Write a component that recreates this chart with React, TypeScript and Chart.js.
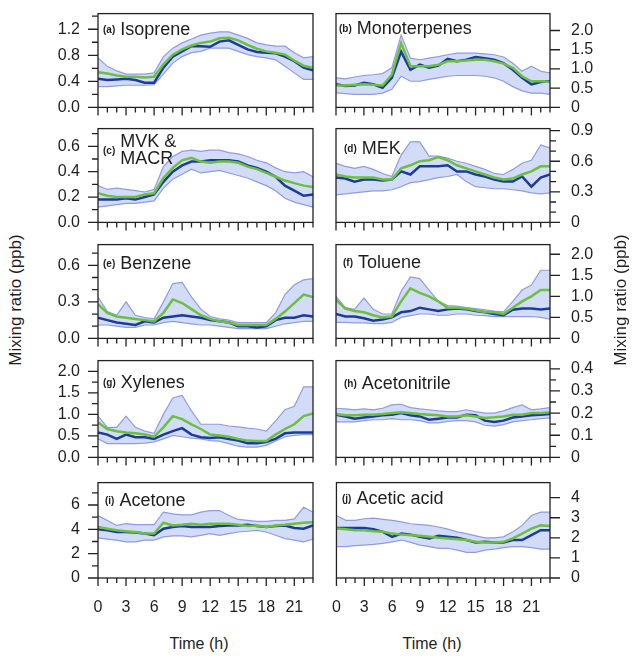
import React, { useEffect, useRef } from "react";
import { Chart, registerables } from "chart.js";

Chart.register(...registerables);

// ---------- shared axis data ----------
const hours = [0, 1, 2, 3, 4, 5, 6, 7, 8, 9, 10, 11, 12, 13, 14, 15, 16, 17, 18, 19, 20, 21, 22, 23];
const hourMajorTicks = [0, 3, 6, 9, 12, 15, 18, 21];
const hourMinorTicks = [1, 2, 4, 5, 7, 8, 10, 11, 13, 14, 16, 17, 19, 20, 22, 23];
const hourTickLabels = ["0", "3", "6", "9", "12", "15", "18", "21"];

// ---------- (a) Isoprene ----------
const isopreneMedian = [0.44, 0.42, 0.43, 0.44, 0.42, 0.38, 0.38, 0.61, 0.78, 0.86, 0.94, 0.94, 0.93, 1.01, 1.03, 0.96, 0.89, 0.85, 0.84, 0.83, 0.78, 0.71, 0.61, 0.57];
const isopreneMean = [0.54, 0.52, 0.49, 0.47, 0.47, 0.46, 0.47, 0.66, 0.81, 0.89, 0.95, 0.99, 1.01, 1.06, 1.07, 1.03, 0.96, 0.90, 0.86, 0.84, 0.81, 0.72, 0.64, 0.61];
const isopreneP75 = [0.76, 0.63, 0.56, 0.51, 0.51, 0.51, 0.53, 0.78, 0.91, 0.99, 1.05, 1.11, 1.14, 1.16, 1.16, 1.11, 1.06, 0.99, 0.96, 0.94, 0.94, 0.84, 0.76, 0.78];
const isopreneP25 = [0.32, 0.32, 0.33, 0.34, 0.34, 0.34, 0.35, 0.51, 0.68, 0.78, 0.84, 0.86, 0.91, 0.91, 0.91, 0.86, 0.81, 0.78, 0.76, 0.73, 0.63, 0.53, 0.43, 0.43];
const isopreneTicks = [0, 0.4, 0.8, 1.2];
const isopreneTickLabels = ["0.0", "0.4", "0.8", "1.2"];
const isopreneMinor = [0.2, 0.6, 1.0, 1.4];

// ---------- (b) Monoterpenes ----------
const monoMedian = [0.60, 0.56, 0.57, 0.64, 0.60, 0.51, 0.77, 1.45, 0.98, 1.11, 1.03, 1.09, 1.26, 1.20, 1.24, 1.31, 1.28, 1.24, 1.15, 0.98, 0.77, 0.60, 0.66, 0.68];
const monoMean = [0.57, 0.57, 0.59, 0.60, 0.59, 0.57, 0.85, 1.67, 1.07, 1.07, 1.07, 1.11, 1.20, 1.20, 1.22, 1.24, 1.24, 1.20, 1.14, 1.03, 0.81, 0.68, 0.68, 0.66];
const monoP75 = [0.77, 0.74, 0.79, 0.83, 0.85, 0.88, 1.03, 1.88, 1.28, 1.24, 1.28, 1.32, 1.37, 1.41, 1.41, 1.41, 1.39, 1.37, 1.31, 1.15, 0.94, 1.07, 0.94, 0.90];
const monoP25 = [0.38, 0.36, 0.34, 0.34, 0.34, 0.37, 0.47, 0.81, 0.68, 0.68, 0.73, 0.77, 0.81, 0.83, 0.83, 0.83, 0.81, 0.77, 0.68, 0.54, 0.43, 0.37, 0.37, 0.34];
const monoTicks = [0, 0.5, 1.0, 1.5, 2.0];
const monoTickLabels = ["0", "0.5", "1.0", "1.5", "2.0"];
const monoMinor: number[] = [];

// ---------- (c) MVK & MACR ----------
const mvkMedian = [0.18, 0.18, 0.18, 0.19, 0.18, 0.20, 0.22, 0.32, 0.40, 0.45, 0.48, 0.48, 0.49, 0.49, 0.49, 0.48, 0.45, 0.43, 0.40, 0.36, 0.29, 0.25, 0.21, 0.22];
const mvkMean = [0.23, 0.21, 0.20, 0.20, 0.20, 0.22, 0.23, 0.35, 0.43, 0.49, 0.51, 0.48, 0.47, 0.48, 0.48, 0.47, 0.44, 0.42, 0.39, 0.36, 0.33, 0.31, 0.29, 0.28];
const mvkP75 = [0.29, 0.26, 0.27, 0.26, 0.25, 0.24, 0.26, 0.44, 0.52, 0.56, 0.57, 0.56, 0.57, 0.57, 0.55, 0.54, 0.52, 0.49, 0.47, 0.43, 0.40, 0.39, 0.40, 0.36];
const mvkP25 = [0.12, 0.13, 0.14, 0.15, 0.15, 0.16, 0.17, 0.27, 0.34, 0.38, 0.42, 0.39, 0.40, 0.41, 0.39, 0.37, 0.35, 0.32, 0.29, 0.25, 0.19, 0.16, 0.14, 0.12];
const mvkTicks = [0, 0.2, 0.4, 0.6];
const mvkTickLabels = ["0.0", "0.2", "0.4", "0.6"];
const mvkMinor = [0.1, 0.3, 0.5, 0.7];

// ---------- (d) MEK ----------
const mekMedian = [0.44, 0.43, 0.40, 0.42, 0.42, 0.41, 0.42, 0.50, 0.47, 0.55, 0.55, 0.55, 0.56, 0.50, 0.50, 0.47, 0.45, 0.42, 0.40, 0.40, 0.45, 0.35, 0.44, 0.47];
const mekMean = [0.47, 0.45, 0.44, 0.44, 0.44, 0.42, 0.42, 0.53, 0.56, 0.60, 0.61, 0.64, 0.61, 0.56, 0.53, 0.50, 0.47, 0.44, 0.42, 0.43, 0.47, 0.50, 0.55, 0.55];
const mekP75 = [0.58, 0.55, 0.53, 0.55, 0.52, 0.48, 0.45, 0.66, 0.79, 0.79, 0.65, 0.65, 0.63, 0.60, 0.58, 0.55, 0.52, 0.48, 0.47, 0.52, 0.58, 0.61, 0.76, 0.73];
const mekP25 = [0.27, 0.28, 0.29, 0.30, 0.31, 0.31, 0.32, 0.35, 0.39, 0.40, 0.42, 0.44, 0.45, 0.47, 0.40, 0.35, 0.34, 0.33, 0.33, 0.32, 0.31, 0.29, 0.28, 0.29];
const mekTicks = [0, 0.3, 0.6, 0.9];
const mekTickLabels = ["0", "0.3", "0.6", "0.9"];
const mekMinor = [0.1, 0.2, 0.4, 0.5, 0.7, 0.8];

// ---------- (e) Benzene ----------
const benzeneMedian = [0.17, 0.15, 0.13, 0.12, 0.11, 0.14, 0.13, 0.17, 0.18, 0.19, 0.18, 0.17, 0.15, 0.14, 0.13, 0.10, 0.10, 0.09, 0.10, 0.15, 0.17, 0.17, 0.19, 0.18];
const benzeneMean = [0.28, 0.21, 0.18, 0.17, 0.16, 0.15, 0.14, 0.21, 0.32, 0.29, 0.24, 0.19, 0.16, 0.14, 0.13, 0.11, 0.11, 0.11, 0.11, 0.16, 0.22, 0.29, 0.36, 0.34];
const benzeneP75 = [0.34, 0.22, 0.19, 0.30, 0.19, 0.17, 0.16, 0.30, 0.45, 0.46, 0.34, 0.24, 0.18, 0.16, 0.15, 0.13, 0.13, 0.13, 0.13, 0.21, 0.36, 0.44, 0.48, 0.49];
const benzeneP25 = [0.11, 0.11, 0.10, 0.09, 0.09, 0.11, 0.11, 0.13, 0.14, 0.13, 0.12, 0.11, 0.11, 0.10, 0.09, 0.08, 0.08, 0.08, 0.08, 0.10, 0.12, 0.13, 0.14, 0.14];
const benzeneTicks = [0, 0.3, 0.6];
const benzeneTickLabels = ["0.0", "0.3", "0.6"];
const benzeneMinor = [0.1, 0.2, 0.4, 0.5, 0.7];

// ---------- (f) Toluene ----------
const tolueneMedian = [0.58, 0.52, 0.52, 0.48, 0.42, 0.45, 0.50, 0.62, 0.65, 0.73, 0.69, 0.65, 0.69, 0.71, 0.69, 0.65, 0.62, 0.58, 0.55, 0.68, 0.71, 0.71, 0.69, 0.71];
const tolueneMean = [0.92, 0.71, 0.65, 0.62, 0.55, 0.50, 0.52, 0.88, 1.19, 1.08, 1.00, 0.88, 0.73, 0.73, 0.71, 0.67, 0.63, 0.62, 0.58, 0.73, 0.88, 1.00, 1.15, 1.15];
const tolueneP75 = [1.00, 0.73, 0.69, 0.96, 0.69, 0.58, 0.58, 1.12, 1.46, 1.42, 1.15, 0.88, 0.78, 0.77, 0.73, 0.71, 0.68, 0.65, 0.63, 0.88, 1.15, 1.27, 1.62, 1.62];
const tolueneP25 = [0.38, 0.38, 0.37, 0.37, 0.35, 0.35, 0.38, 0.50, 0.54, 0.58, 0.58, 0.55, 0.55, 0.58, 0.58, 0.55, 0.54, 0.52, 0.52, 0.52, 0.52, 0.52, 0.50, 0.46];
const tolueneTicks = [0, 0.5, 1.0, 1.5, 2.0];
const tolueneTickLabels = ["0", "0.5", "1.0", "1.5", "2.0"];
const tolueneMinor: number[] = [];

// ---------- (g) Xylenes ----------
const xyleneMedian = [0.58, 0.53, 0.43, 0.53, 0.47, 0.47, 0.43, 0.53, 0.61, 0.68, 0.53, 0.47, 0.45, 0.47, 0.43, 0.39, 0.33, 0.33, 0.36, 0.43, 0.56, 0.58, 0.58, 0.58];
const xyleneMean = [0.81, 0.66, 0.61, 0.58, 0.56, 0.53, 0.48, 0.70, 0.96, 0.89, 0.77, 0.66, 0.53, 0.51, 0.48, 0.43, 0.39, 0.38, 0.38, 0.53, 0.66, 0.77, 0.96, 1.02];
const xyleneP75 = [0.96, 0.70, 0.70, 0.96, 0.70, 0.61, 0.56, 1.00, 1.38, 1.44, 1.08, 0.77, 0.77, 0.77, 0.73, 0.71, 0.68, 0.66, 0.61, 0.85, 1.11, 1.19, 1.64, 1.64];
const xyleneP25 = [0.43, 0.32, 0.32, 0.32, 0.32, 0.33, 0.36, 0.43, 0.51, 0.48, 0.45, 0.43, 0.39, 0.38, 0.32, 0.26, 0.24, 0.24, 0.28, 0.38, 0.48, 0.51, 0.53, 0.53];
const xyleneTicks = [0, 0.5, 1.0, 1.5, 2.0];
const xyleneTickLabels = ["0.0", "0.5", "1.0", "1.5", "2.0"];
const xyleneMinor = [0.25, 0.75, 1.25, 1.75];

// ---------- (h) Acetonitrile ----------
const acnMedian = [0.193, 0.185, 0.175, 0.180, 0.185, 0.190, 0.193, 0.200, 0.190, 0.185, 0.170, 0.175, 0.180, 0.180, 0.193, 0.190, 0.166, 0.160, 0.166, 0.180, 0.185, 0.190, 0.193, 0.196];
const acnMean = [0.196, 0.190, 0.190, 0.193, 0.193, 0.196, 0.200, 0.204, 0.200, 0.196, 0.193, 0.190, 0.185, 0.185, 0.190, 0.185, 0.178, 0.181, 0.185, 0.193, 0.193, 0.200, 0.200, 0.204];
const acnP75 = [0.222, 0.219, 0.215, 0.219, 0.215, 0.222, 0.237, 0.240, 0.225, 0.219, 0.215, 0.210, 0.207, 0.207, 0.215, 0.207, 0.200, 0.200, 0.210, 0.225, 0.237, 0.215, 0.219, 0.225];
const acnP25 = [0.160, 0.160, 0.160, 0.166, 0.170, 0.170, 0.175, 0.170, 0.170, 0.166, 0.156, 0.156, 0.163, 0.166, 0.166, 0.160, 0.145, 0.141, 0.148, 0.160, 0.166, 0.170, 0.175, 0.178];
const acnTicks = [0, 0.1, 0.2, 0.3, 0.4];
const acnTickLabels = ["0", "0.1", "0.2", "0.3", "0.4"];
const acnMinor = [0.05, 0.15, 0.25, 0.35];

// ---------- (i) Acetone ----------
const acetoneMedian = [4.00, 3.92, 3.78, 3.78, 3.73, 3.65, 3.51, 4.05, 4.19, 4.27, 4.19, 4.19, 4.19, 4.27, 4.32, 4.32, 4.38, 4.27, 4.19, 4.27, 4.32, 4.11, 4.05, 4.32];
const acetoneMean = [4.19, 4.05, 3.92, 3.84, 3.78, 3.65, 3.65, 4.54, 4.32, 4.38, 4.46, 4.38, 4.46, 4.46, 4.46, 4.38, 4.27, 4.32, 4.19, 4.32, 4.38, 4.46, 4.54, 4.59];
const acetoneP75 = [5.14, 4.73, 4.32, 4.46, 4.38, 4.38, 4.38, 5.41, 5.27, 5.19, 5.19, 5.41, 5.54, 5.54, 5.14, 4.81, 4.73, 4.65, 4.65, 4.73, 4.73, 4.86, 5.81, 5.41];
const acetoneP25 = [3.30, 3.19, 3.11, 2.97, 2.97, 3.11, 3.11, 3.38, 3.46, 3.46, 3.38, 3.51, 3.65, 3.51, 3.65, 3.78, 3.84, 3.92, 3.78, 3.51, 3.24, 3.11, 2.97, 3.19];
const acetoneTicks = [0, 2, 4, 6];
const acetoneTickLabels = ["0", "2", "4", "6"];
const acetoneMinor = [1, 3, 5, 7];

// ---------- (j) Acetic acid ----------
const aceticMedian = [2.49, 2.49, 2.49, 2.49, 2.43, 2.30, 2.05, 2.21, 2.16, 2.05, 1.97, 2.10, 2.05, 2.00, 1.89, 1.77, 1.80, 1.77, 1.77, 1.89, 1.89, 2.13, 2.38, 2.38];
const aceticMean = [2.46, 2.43, 2.38, 2.38, 2.33, 2.30, 2.21, 2.16, 2.13, 2.10, 2.05, 2.00, 1.97, 1.93, 1.89, 1.80, 1.77, 1.77, 1.80, 1.97, 2.21, 2.46, 2.62, 2.59];
const aceticP75 = [3.11, 2.87, 2.87, 2.95, 2.98, 2.92, 2.87, 2.79, 2.70, 2.66, 2.62, 2.54, 2.43, 2.30, 2.21, 2.10, 2.00, 2.00, 2.05, 2.30, 2.62, 3.11, 3.28, 3.28];
const aceticP25 = [1.56, 1.56, 1.61, 1.64, 1.67, 1.72, 1.80, 1.89, 1.77, 1.64, 1.56, 1.48, 1.48, 1.39, 1.28, 1.28, 1.39, 1.44, 1.51, 1.56, 1.56, 1.51, 1.44, 1.44];
const aceticTicks = [0, 1, 2, 3, 4];
const aceticTickLabels = ["0", "1", "2", "3", "4"];
const aceticMinor: number[] = [];

// ---------- style / layout ----------
const FONT = "'Liberation Sans', Arial, Helvetica, sans-serif";
const TEXT = "#1e1e1e";
const GREEN = "#6cbf3f";
const BLUE = "#1c3c9c";
const BAND_LINE = "#8f9be3";
const BAND_FILL = "rgba(196, 208, 243, 0.75)";
const FRAME = "#222222";
const TICK_FONT = 16;

const COL_LEFT = [98, 336];
const COL_WIDTH = [215, 214];
const ROW_TOP = [13, 128, 244, 360, 482];
const ROW_HEIGHT = [95, 95, 95, 98, 96];

type PanelDef = {
  letter: string;
  name: string[];
  col: number;
  row: number;
  labelDx: number;
  labelDy: number;
  yMax: number;
  median: number[];
  mean: number[];
  p75: number[];
  p25: number[];
  yTicks: number[];
  yTickLabels: string[];
  yMinor: number[];
};

const panels: PanelDef[] = [
  { letter: "(a)", name: ["Isoprene"], col: 0, row: 0, labelDx: 5, labelDy: 16, yMax: 1.44, median: isopreneMedian, mean: isopreneMean, p75: isopreneP75, p25: isopreneP25, yTicks: isopreneTicks, yTickLabels: isopreneTickLabels, yMinor: isopreneMinor },
  { letter: "(b)", name: ["Monoterpenes"], col: 1, row: 0, labelDx: 3, labelDy: 15, yMax: 2.44, median: monoMedian, mean: monoMean, p75: monoP75, p25: monoP25, yTicks: monoTicks, yTickLabels: monoTickLabels, yMinor: monoMinor },
  { letter: "(c)", name: ["MVK &", "MACR"], col: 0, row: 1, labelDx: 5, labelDy: 22, yMax: 0.74, median: mvkMedian, mean: mvkMean, p75: mvkP75, p25: mvkP25, yTicks: mvkTicks, yTickLabels: mvkTickLabels, yMinor: mvkMinor },
  { letter: "(d)", name: ["MEK"], col: 1, row: 1, labelDx: 8, labelDy: 20, yMax: 0.92, median: mekMedian, mean: mekMean, p75: mekP75, p25: mekP25, yTicks: mekTicks, yTickLabels: mekTickLabels, yMinor: mekMinor },
  { letter: "(e)", name: ["Benzene"], col: 0, row: 2, labelDx: 5, labelDy: 19, yMax: 0.77, median: benzeneMedian, mean: benzeneMean, p75: benzeneP75, p25: benzeneP25, yTicks: benzeneTicks, yTickLabels: benzeneTickLabels, yMinor: benzeneMinor },
  { letter: "(f)", name: ["Toluene"], col: 1, row: 2, labelDx: 7, labelDy: 18, yMax: 2.23, median: tolueneMedian, mean: tolueneMean, p75: tolueneP75, p25: tolueneP25, yTicks: tolueneTicks, yTickLabels: tolueneTickLabels, yMinor: tolueneMinor },
  { letter: "(g)", name: ["Xylenes"], col: 0, row: 3, labelDx: 5, labelDy: 22, yMax: 2.25, median: xyleneMedian, mean: xyleneMean, p75: xyleneP75, p25: xyleneP25, yTicks: xyleneTicks, yTickLabels: xyleneTickLabels, yMinor: xyleneMinor },
  { letter: "(h)", name: ["Acetonitrile"], col: 1, row: 3, labelDx: 8, labelDy: 23, yMax: 0.437, median: acnMedian, mean: acnMean, p75: acnP75, p25: acnP25, yTicks: acnTicks, yTickLabels: acnTickLabels, yMinor: acnMinor },
  { letter: "(i)", name: ["Acetone"], col: 0, row: 4, labelDx: 7, labelDy: 18, yMax: 7.84, median: acetoneMedian, mean: acetoneMean, p75: acetoneP75, p25: acetoneP25, yTicks: acetoneTicks, yTickLabels: acetoneTickLabels, yMinor: acetoneMinor },
  { letter: "(j)", name: ["Acetic acid"], col: 1, row: 4, labelDx: 6, labelDy: 16, yMax: 4.75, median: aceticMedian, mean: aceticMean, p75: aceticP75, p25: aceticP25, yTicks: aceticTicks, yTickLabels: aceticTickLabels, yMinor: aceticMinor },
];

function Panel({ p }: { p: PanelDef }) {
  const ref = useRef<HTMLCanvasElement | null>(null);
  const isLeft = p.col === 0;
  const isBottom = p.row === 4;
  const L = COL_LEFT[p.col];
  const W = COL_WIDTH[p.col];
  const T = ROW_TOP[p.row];
  const H = ROW_HEIGHT[p.row];
  const padL = isLeft ? 60 : 6;
  const padR = isLeft ? 6 : 60;
  const padT = 12;
  const padB = isBottom ? 44 : 12;
  const cw = padL + W + padR;
  const ch = padT + H + padB;

  useEffect(() => {
    if (!ref.current) return;
    const pts = (arr: number[]) => hours.map((h, i) => ({ x: h, y: arr[i] }));
    const frame = {
      id: "frameTicks",
      afterDraw(chart: any) {
        const { ctx, chartArea: a } = chart;
        const xs = chart.scales.x;
        const ys = chart.scales.y;
        ctx.save();
        ctx.strokeStyle = FRAME;
        ctx.lineWidth = 1.3;
        ctx.strokeRect(a.left, a.top, a.right - a.left, a.bottom - a.top);
        ctx.beginPath();
        const seg = (x1: number, y1: number, x2: number, y2: number) => {
          ctx.moveTo(x1, y1);
          ctx.lineTo(x2, y2);
        };
        for (const v of hourMajorTicks) {
          const px = xs.getPixelForValue(v);
          seg(px, a.bottom, px, a.bottom + 8);
        }
        for (const v of hourMinorTicks) {
          const px = xs.getPixelForValue(v);
          seg(px, a.bottom, px, a.bottom + 5);
        }
        for (const v of p.yTicks) {
          const py = ys.getPixelForValue(v);
          if (isLeft) seg(a.left - 10, py, a.left, py);
          else seg(a.right, py, a.right + 10, py);
        }
        for (const v of p.yMinor) {
          if (v > p.yMax) continue;
          const py = ys.getPixelForValue(v);
          if (isLeft) seg(a.left - 6, py, a.left, py);
          else seg(a.right, py, a.right + 6, py);
        }
        ctx.stroke();
        ctx.restore();
      },
    };
    const chart = new Chart(ref.current, {
      type: "line",
      data: {
        datasets: [
          { label: "Mean", data: pts(p.mean), borderColor: GREEN, borderWidth: 2.5, pointRadius: 0, fill: false, tension: 0 },
          { label: "Median", data: pts(p.median), borderColor: BLUE, borderWidth: 2.5, pointRadius: 0, fill: false, tension: 0 },
          { label: "75th percentile", data: pts(p.p75), borderColor: BAND_LINE, borderWidth: 1.2, pointRadius: 0, fill: false, tension: 0 },
          { label: "25th percentile", data: pts(p.p25), borderColor: BAND_LINE, borderWidth: 1.2, pointRadius: 0, fill: "-1", backgroundColor: BAND_FILL, tension: 0 },
        ],
      },
      options: {
        responsive: false,
        animation: false,
        devicePixelRatio: 1,
        events: [],
        layout: { padding: { left: isLeft ? 0 : padL, right: isLeft ? padR : 0, top: padT, bottom: 0 } },
        plugins: { legend: { display: false }, tooltip: { enabled: false } },
        scales: {
          x: {
            type: "linear",
            min: 0,
            max: 23,
            grid: { display: true, drawOnChartArea: false, drawTicks: true, tickLength: 18, color: "rgba(0,0,0,0)" },
            border: { display: false },
            ticks: {
              display: isBottom,
              autoSkip: false,
              maxRotation: 0,
              padding: 2,
              color: TEXT,
              font: { family: FONT, size: TICK_FONT },
              callback: (v: any) => {
                const i = hourMajorTicks.indexOf(Number(v));
                return i >= 0 ? hourTickLabels[i] : "";
              },
            },
            afterBuildTicks: (s: any) => {
              s.ticks = hourMajorTicks.map((v) => ({ value: v }));
            },
            afterFit: (s: any) => {
              s.height = padB;
            },
          },
          y: {
            type: "linear",
            position: isLeft ? "left" : "right",
            min: 0,
            max: p.yMax,
            grid: { display: true, drawOnChartArea: false, drawTicks: true, tickLength: isLeft ? 15 : 18, color: "rgba(0,0,0,0)" },
            border: { display: false },
            ticks: {
              autoSkip: false,
              padding: 3,
              color: TEXT,
              font: { family: FONT, size: TICK_FONT },
              callback: (v: any) => {
                const i = p.yTicks.indexOf(Number(v));
                return i >= 0 ? p.yTickLabels[i] : "";
              },
            },
            afterBuildTicks: (s: any) => {
              s.ticks = p.yTicks.map((v) => ({ value: v }));
            },
            afterFit: (s: any) => {
              s.width = isLeft ? padL : padR;
            },
          },
        },
      } as any,
      plugins: [frame],
    });
    return () => chart.destroy();
  }, []);

  return (
    <canvas
      ref={ref}
      width={cw}
      height={ch}
      style={{ position: "absolute", left: L - padL, top: T - padT, width: cw, height: ch }}
    />
  );
}

function PanelLabel({ p }: { p: PanelDef }) {
  const L = COL_LEFT[p.col];
  const T = ROW_TOP[p.row];
  return (
    <div
      style={{
        position: "absolute",
        left: L + p.labelDx,
        top: T + p.labelDy,
        transform: "translateY(-50%)",
        display: "flex",
        alignItems: "center",
        fontFamily: FONT,
        color: TEXT,
        whiteSpace: "nowrap",
        zIndex: 2,
      }}
    >
      <span style={{ fontSize: 10, fontWeight: 700, marginRight: 5 }}>{p.letter}</span>
      <span style={{ fontSize: 18, lineHeight: "17px" }}>
        {p.name.map((n, i) => (
          <div key={i}>{n}</div>
        ))}
      </span>
    </div>
  );
}

function AxisTitle({ text, cx, cy, rotate, size }: { text: string; cx: number; cy: number; rotate: boolean; size: number }) {
  return (
    <div
      style={{
        position: "absolute",
        left: cx,
        top: cy,
        transform: `translate(-50%, -50%)${rotate ? " rotate(-90deg)" : ""}`,
        fontFamily: FONT,
        fontSize: size,
        color: TEXT,
        whiteSpace: "nowrap",
        zIndex: 2,
      }}
    >
      {text}
    </div>
  );
}

export default function App() {
  return (
    <div style={{ position: "absolute", left: 0, top: 0, width: 634, height: 656, background: "#ffffff", overflow: "hidden" }}>
      {panels.map((p) => (
        <Panel key={p.letter} p={p} />
      ))}
      {panels.map((p) => (
        <PanelLabel key={"l" + p.letter} p={p} />
      ))}
      <AxisTitle text="Mixing ratio (ppb)" cx={16} cy={300} rotate={true} size={17} />
      <AxisTitle text="Mixing ratio (ppb)" cx={621} cy={300} rotate={true} size={17} />
      <AxisTitle text="Time (h)" cx={199} cy={644} rotate={false} size={16} />
      <AxisTitle text="Time (h)" cx={432} cy={644} rotate={false} size={16} />
    </div>
  );
}
